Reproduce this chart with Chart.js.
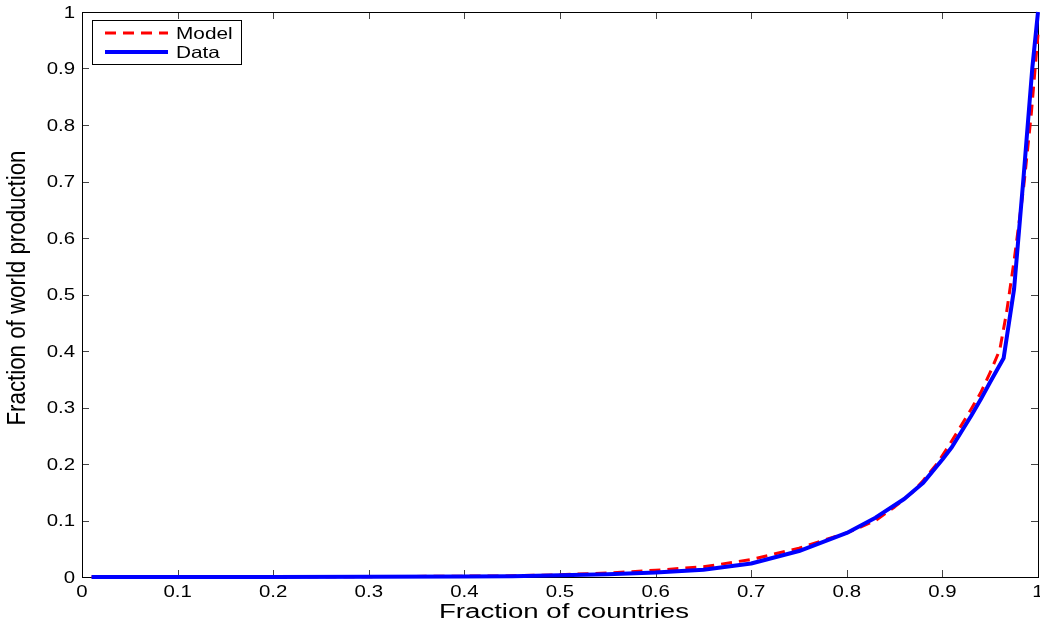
<!DOCTYPE html>
<html>
<head>
<meta charset="utf-8">
<script src="https://cdn.jsdelivr.net/npm/chart.js@4/dist/chart.umd.min.js"></script>
<style>
html,body{margin:0;padding:0;background:#fff;}
#wrap{width:1040px;height:624px;}
</style>
</head>
<body>
<div id="wrap"><canvas id="c" width="1040" height="624"></canvas></div>
<script>
// ---- data ----
const dataX  = [0.01,0.1,0.2,0.3,0.4,0.45,0.5,0.55,0.6,0.65,0.7,0.75,0.8,0.83,0.86,0.88,0.9,0.91,0.93,0.94,0.95,0.964,0.975,0.985,0.994,1];
const dataY  = [0,0,0.0002,0.0005,0.001,0.0015,0.003,0.005,0.008,0.013,0.024,0.046,0.078,0.105,0.138,0.167,0.208,0.23,0.285,0.314,0.345,0.387,0.51,0.71,0.9,1];
const modelX = [0.01,0.1,0.2,0.3,0.4,0.45,0.5,0.55,0.6,0.65,0.7,0.75,0.8,0.83,0.85,0.87,0.88,0.895,0.905,0.915,0.93,0.94,0.95,0.96,0.967,0.975,0.985,0.993,1];
const modelY = [0,0,0.0003,0.0006,0.0015,0.002,0.004,0.007,0.012,0.018,0.031,0.051,0.078,0.1,0.124,0.152,0.171,0.202,0.228,0.255,0.297,0.326,0.362,0.402,0.467,0.56,0.69,0.82,0.96];
const tickValues = [0,0.1,0.2,0.3,0.4,0.5,0.6,0.7,0.8,0.9,1];
const tickLabels = ['0','0.1','0.2','0.3','0.4','0.5','0.6','0.7','0.8','0.9','1'];
const seriesNames = ['Model','Data'];
const xTitle = 'Fraction of countries';
const yTitle = 'Fraction of world production';

const FONT = '"Liberation Sans", Arial, Helvetica, sans-serif';

function sText(ctx, txt, x, y, sx, align, base){
  ctx.save();
  ctx.translate(x, y);
  ctx.scale(sx, 1);
  ctx.textAlign = align;
  ctx.textBaseline = base;
  ctx.fillText(txt, 0, 0);
  ctx.restore();
}

const matlabAxes = {
  id: 'matlabAxes',
  beforeDatasetsDraw(chart){
    const {ctx, chartArea:a, scales:{x, y}} = chart;
    ctx.save();
    ctx.fillStyle = '#fff';
    ctx.fillRect(a.left, a.top, a.right - a.left, a.bottom - a.top);
    ctx.lineWidth = 1;
    ctx.strokeStyle = '#444';
    const L = 7;
    tickValues.forEach(v => {
      if (v > 0 && v < 1) {
        const px = Math.round(x.getPixelForValue(v)) + 0.5;
        ctx.beginPath();
        ctx.moveTo(px, a.bottom); ctx.lineTo(px, a.bottom - L);
        ctx.moveTo(px, a.top); ctx.lineTo(px, a.top + L);
        ctx.stroke();
        const py = Math.round(y.getPixelForValue(v)) + 0.5;
        ctx.beginPath();
        ctx.moveTo(a.left, py); ctx.lineTo(a.left + L, py);
        ctx.moveTo(a.right, py); ctx.lineTo(a.right - L, py);
        ctx.stroke();
      }
    });
    ctx.strokeStyle = '#000';
    ctx.strokeRect(Math.round(a.left) + 0.5, Math.round(a.top) + 0.5,
                   Math.round(a.right - a.left), Math.round(a.bottom - a.top));
    // tick labels
    ctx.fillStyle = '#000';
    ctx.font = '17px ' + FONT;
    tickValues.forEach((v, i) => {
      sText(ctx, tickLabels[i], x.getPixelForValue(v), a.bottom + 15, 1.2, 'center', 'middle');
      sText(ctx, tickLabels[i], a.left - 7, y.getPixelForValue(v) + 1, 1.2, 'right', 'middle');
    });
    // axis titles
    ctx.font = '19.5px ' + FONT;
    const wx = ctx.measureText(xTitle).width;
    sText(ctx, xTitle, (a.left + a.right) / 2 + 4, 618, 250 / wx, 'center', 'alphabetic');
    const wy = ctx.measureText(yTitle).width;
    ctx.save();
    ctx.translate(25, 288);
    ctx.rotate(-Math.PI / 2);
    ctx.scale(275 / wy, 1.35);
    ctx.textAlign = 'center';
    ctx.textBaseline = 'alphabetic';
    ctx.fillText(yTitle, 0, 0);
    ctx.restore();
    ctx.restore();
  },
  afterDraw(chart){
    const {ctx} = chart;
    const ds = chart.data.datasets;
    ctx.save();
    ctx.fillStyle = '#fff';
    ctx.fillRect(92.5, 20.5, 149, 44);
    ctx.strokeStyle = '#000';
    ctx.lineWidth = 1;
    ctx.strokeRect(92.5, 20.5, 149, 44);
    const rows = [33, 52];
    ds.forEach((d, i) => {
      const yy = rows[i];
      ctx.beginPath();
      ctx.strokeStyle = d.borderColor;
      ctx.lineWidth = d.borderWidth;
      ctx.setLineDash(d.borderDash || []);
      ctx.moveTo(105, yy); ctx.lineTo(168, yy);
      ctx.stroke();
      ctx.setLineDash([]);
      ctx.fillStyle = '#000';
      ctx.font = '16.5px ' + FONT;
      sText(ctx, d.label, 176, yy + 1, 1.26, 'left', 'middle');
    });
    ctx.restore();
  }
};

const toPts = (xs, ys) => xs.map((v, i) => ({x: v, y: ys[i]}));

new Chart(document.getElementById('c'), {
  type: 'line',
  data: {
    datasets: [
      {label: seriesNames[0], data: toPts(modelX, modelY), borderColor: '#ff0000', borderWidth: 3,
       borderDash: [11, 7], pointRadius: 0, tension: 0, fill: false, order: 1},
      {label: seriesNames[1], data: toPts(dataX, dataY), borderColor: '#0000ff', borderWidth: 4,
       pointRadius: 0, tension: 0, fill: false, order: 0}
    ]
  },
  options: {
    responsive: false,
    animation: false,
    layout: {padding: {left: 82, right: 2, top: 12, bottom: 47}},
    plugins: {legend: {display: false}, tooltip: {enabled: false}},
    scales: {
      x: {type: 'linear', min: 0, max: 1, display: false},
      y: {type: 'linear', min: 0, max: 1, display: false}
    },
    elements: {line: {borderCapStyle: 'butt', borderJoinStyle: 'round'}},
    clip: false
  },
  plugins: [matlabAxes]
});
</script>
</body>
</html>
